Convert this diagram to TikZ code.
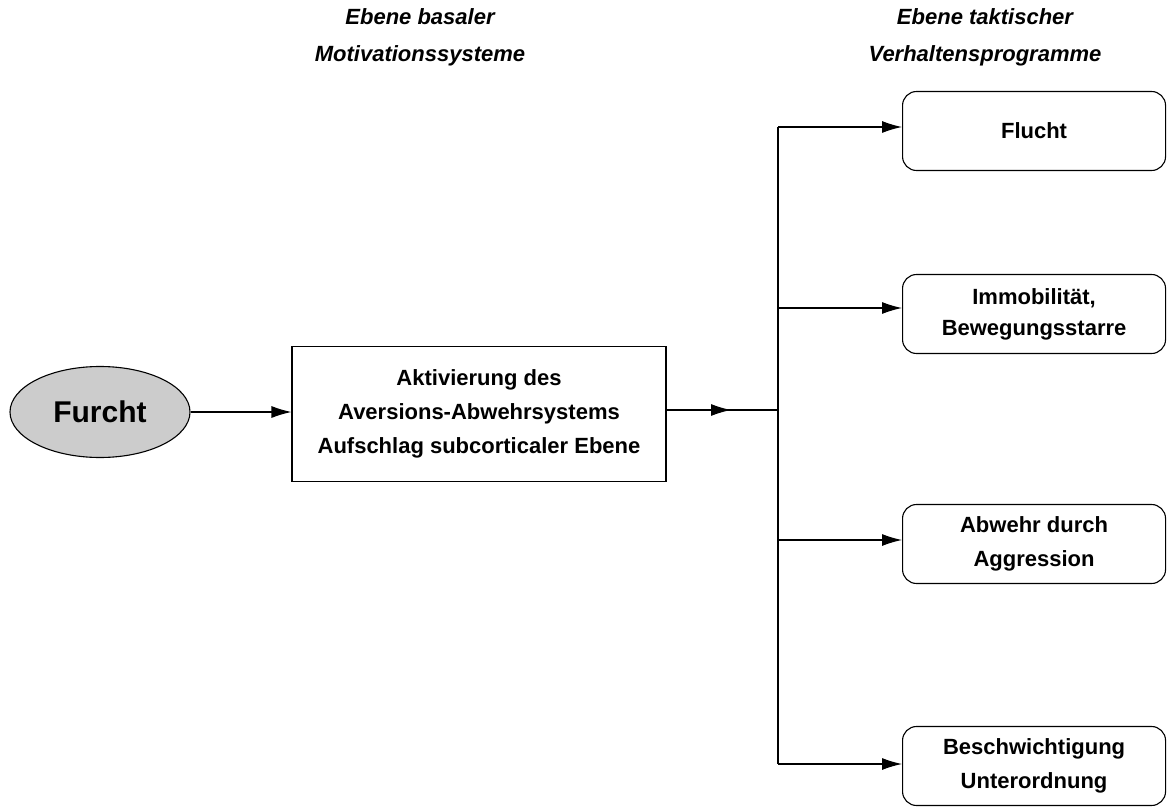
\documentclass[tikz,border=0pt]{standalone}
\usepackage{fontspec}
\setmainfont{Liberation Sans}
\usetikzlibrary{shapes.geometric,arrows.meta}
\begin{document}
\begin{tikzpicture}[x=1pt,y=-1pt,
  lbl/.style={font=\bfseries\fontsize{22}{34}\selectfont, align=center},
  hdr/.style={font=\bfseries\itshape\fontsize{22}{37}\selectfont, align=center},
  prog/.style={draw, line width=1.1pt, rounded corners=14pt, minimum width=263pt, minimum height=79pt, lbl, anchor=west},
  conn/.style={line width=1.1pt},
  arr/.style={conn, -{Latex[length=20pt,width=12pt]}}
]
\useasboundingbox (0,0) rectangle (1167,810);
\node[hdr] (h1) at (420,37) {Ebene basaler\\Motivationssysteme};
\node[hdr] (h2) at (985,37) {Ebene taktischer\\Verhaltensprogramme};
\node[draw, line width=1.1pt, ellipse, fill=gray!40, minimum width=180pt, minimum height=91pt, font=\bfseries\fontsize{30}{34}\selectfont] (f) at (100,412) {Furcht};
\node[draw, line width=1.1pt, minimum width=374pt, minimum height=135pt, lbl] (a) at (479,414) {Aktivierung des\\Aversions-Abwehrsystems\\Aufschlag subcorticaler Ebene};
\node[prog] (p1) at (902,131) {Flucht};
\node[prog, font=\bfseries\fontsize{22}{31}\selectfont] (p2) at (902,314) {Immobilität,\\Bewegungsstarre};
\node[prog] (p3) at (902,544) {Abwehr durch\\Aggression};
\node[prog] (p4) at (902,766) {Beschwichtigung\\Unterordnung};
\coordinate (j) at (778,410);
\coordinate (jt) at (778,127);
\coordinate (jb) at (778,764);
\coordinate (m) at (731,410);
\draw[conn] (a.east |- j) -- (j);
\draw[arr] (a.east |- j) -- (m);
\draw[arr] (f.east) -- (a.west |- f.east);
\draw[conn] (jt) -- (jb);
\draw[arr] (jt) -- (p1.west |- jt);
\draw[arr] (778,308) coordinate (b2) -- (p2.west |- b2);
\draw[arr] (778,540) coordinate (b3) -- (p3.west |- b3);
\draw[arr] (jb) -- (p4.west |- jb);
\end{tikzpicture}
\end{document}
